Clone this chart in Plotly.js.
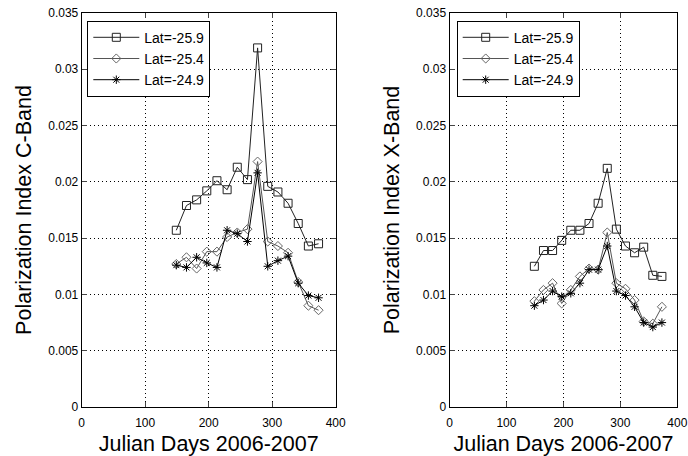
<!DOCTYPE html>
<html>
<head>
<meta charset="utf-8">
<script src="https://cdn.plot.ly/plotly-3.0.1.min.js"></script>
<style>html,body{margin:0;padding:0;background:#fff;}#chart{width:688px;height:456px;}</style>
</head>
<body>
<div id="chart"></div>
<script>
// Julian days (2006-2007)
var days = [149,165,181,197,213,229,245,261,277,293,309,325,341,357,373];
var seriesNames = ["Lat=-25.9","Lat=-25.4","Lat=-24.9"];

// C-Band polarization index
var cBandLat259 = [0.0157,0.0179,0.0184,0.0192,0.0201,0.0193,0.0213,0.0202,0.0319,0.0196,0.0191,0.0181,0.0163,0.0143,0.0145];
var cBandLat254 = [0.0127,0.0133,0.0123,0.0138,0.0138,0.0151,0.0155,0.0158,0.0218,0.0147,0.0143,0.0137,0.0111,0.0090,0.0086];
var cBandLat249 = [0.0126,0.0124,0.0133,0.0128,0.0124,0.0157,0.0154,0.0147,0.0208,0.0125,0.0130,0.0134,0.0110,0.0099,0.0097];

// X-Band polarization index
var xBandLat259 = [0.0125,0.0139,0.0139,0.0148,0.0157,0.0157,0.0163,0.0181,0.0212,0.0158,0.0143,0.0137,0.0142,0.0117,0.0116];
var xBandLat254 = [0.0094,0.0104,0.0110,0.0092,0.0104,0.0116,0.0123,0.0122,0.0155,0.0110,0.0105,0.0095,0.0076,0.0074,0.0089];
var xBandLat249 = [0.0090,0.0095,0.0103,0.0098,0.0101,0.0110,0.0122,0.0122,0.0143,0.0103,0.0099,0.0089,0.0075,0.0071,0.0075];

var xTickVals = [0,100,200,300,400];
var yTickVals = [0,0.005,0.01,0.015,0.02,0.025,0.03,0.035];
var yTickText = ["0","0.005","0.01","0.015","0.02","0.025","0.03","0.035"];

var styles = [
  {line:{color:'#222',width:1}, marker:{symbol:'square-open',size:8,color:'#222',line:{width:1}}},
  {line:{color:'#555',width:1}, marker:{symbol:'diamond-open',size:7,color:'#666',line:{width:1}}},
  {line:{color:'#000',width:1}, marker:{symbol:'asterisk-open',size:7,color:'#000',line:{width:1}}}
];

function mk(y, i, xa, ya, leg){
  return {x: days, y: y, name: seriesNames[i], type:'scatter', mode:'lines+markers',
    xaxis: xa, yaxis: ya, legend: leg, line: styles[i].line, marker: styles[i].marker};
}

var data = [
  mk(cBandLat259,0,'x','y','legend'),
  mk(cBandLat254,1,'x','y','legend'),
  mk(cBandLat249,2,'x','y','legend'),
  mk(xBandLat259,0,'x2','y2','legend2'),
  mk(xBandLat254,1,'x2','y2','legend2'),
  mk(xBandLat249,2,'x2','y2','legend2')
];

var W = 688, H = 456;
var tickFont = {family:'Arial, Liberation Sans, sans-serif', size:12, color:'#000'};
var titleFont = {family:'Arial, Liberation Sans, sans-serif', size:21.5, color:'#000'};
var gridDash = '1px,3px';

function xax(l, r){
  return {domain:[l/W, r/W], range:[0,400], tickvals:xTickVals, ticks:'inside', ticklen:5,
    ticklabelstandoff:5,
    showline:true, mirror:'ticks', linecolor:'#000', linewidth:1, zeroline:false,
    showgrid:true, gridcolor:'#000', griddash:gridDash, gridwidth:1, tickfont:tickFont,
    title:{text:'Julian Days 2006-2007', font:titleFont, standoff:6}, automargin:false, fixedrange:true};
}
function yax(anchor, title){
  return {domain:[1-407/H, 1-13/H], range:[0,0.035], tickvals:yTickVals, ticktext:yTickText,
    anchor:anchor, ticks:'inside', ticklen:5, showline:true, mirror:'ticks', linecolor:'#000', linewidth:1,
    zeroline:false, showgrid:true, gridcolor:'#000', griddash:gridDash, gridwidth:1, tickfont:tickFont,
    title:{text:title, font:titleFont, standoff:10}, automargin:false, fixedrange:true};
}

var legendBase = {yanchor:'top', xanchor:'left', bgcolor:'#fff', bordercolor:'#000', borderwidth:1,
  font:{family:'Arial, Liberation Sans, sans-serif', size:14, color:'#000'}, itemwidth:46, tracegroupgap:0};

var layout = {
  width:W, height:H, margin:{l:0,r:0,t:0,b:0}, paper_bgcolor:'#fff', plot_bgcolor:'#fff',
  showlegend:true,
  xaxis: Object.assign(xax(81.7,335.7), {anchor:'y'}),
  yaxis: yax('x','Polarization Index C-Band'),
  xaxis2: Object.assign(xax(449.5,677.3), {anchor:'y2'}),
  yaxis2: yax('x2','Polarization Index X-Band'),
  legend: Object.assign({x:87.3/W, y:1-20.7/H}, legendBase),
  legend2: Object.assign({x:456.7/W, y:1-20.7/H}, legendBase)
};

Plotly.newPlot('chart', data, layout, {displayModeBar:false, staticPlot:true});
</script>
</body>
</html>
